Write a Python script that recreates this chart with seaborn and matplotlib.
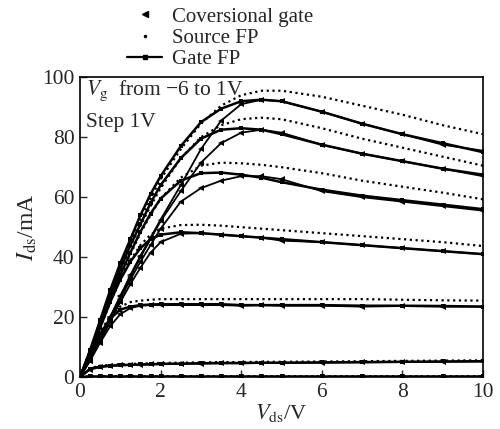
import numpy as np
import pandas as pd
import matplotlib
matplotlib.use('Agg')
import matplotlib.pyplot as plt
import seaborn as sns
from matplotlib.lines import Line2D

# values (I-V curves, Vg from top to bottom)
vds = [0, 0.25, 0.5, 0.75, 1.0, 1.25, 1.5, 1.75, 2.0, 2.5,
       3.0, 3.5, 4.0, 4.5, 5.0, 6.0, 7.0, 8.0, 9.0, 10.0]
vg_levels = ['0', '-1', '-2', '-3', '-4', '-5', '-6']

gate_fp = [
    [0, 9, 19, 29, 38, 46, 54, 61, 67, 77, 85, 89.5, 92, 92.5, 92, 88.5, 84.5, 81, 78, 75],
    [0, 8.5, 18, 27, 36, 44, 51, 58, 64, 73, 79.5, 82.5, 83, 82.5, 81, 77.5, 74.5, 72, 69.5, 67.5],
    [0, 8, 17, 26, 34, 41.5, 48.5, 54.5, 59.5, 65.5, 68, 68.2, 67.5, 66.5, 65, 62.5, 60.5, 59, 57.5, 56],
    [0, 8, 16.5, 25, 32.5, 38.5, 43, 46, 47.5, 48.3, 48, 47.5, 47, 46.5, 46, 45, 44, 43, 42, 41],
    [0, 7.5, 14.5, 19.5, 22.5, 23.5, 24, 24.2, 24.3, 24.3, 24.3, 24.3, 24, 24, 24, 24, 23.8, 23.8, 23.7, 23.5],
    [0, 2.8, 3.5, 3.8, 4, 4.1, 4.2, 4.3, 4.4, 4.5, 4.6, 4.7, 4.7, 4.8, 4.8, 4.9, 5, 5.1, 5.2, 5.3],
    [0, 0.2, 0.2, 0.2, 0.2, 0.2, 0.2, 0.2, 0.2, 0.2, 0.2, 0.2, 0.2, 0.2, 0.2, 0.2, 0.2, 0.2, 0.2, 0.2],
]
source_fp = [
    [0, 9, 18.5, 28, 37, 45, 52.5, 59.5, 66, 76, 84.5, 90.5, 94, 95.5, 95.5, 93.5, 90.5, 87.5, 84, 81],
    [0, 8.5, 18, 27, 35.5, 43.5, 50.5, 57, 63, 73, 80, 84, 86, 86.5, 86, 83, 79.5, 76.5, 73.5, 70.5],
    [0, 8, 17, 25.5, 33.5, 41, 48, 54, 59.5, 66.5, 70.5, 71.5, 71.3, 70.8, 70, 68, 65.5, 63.5, 61.5, 59.3],
    [0, 8, 16.5, 25, 32.5, 39, 44, 47.5, 49.5, 50.7, 50.8, 50.5, 50, 49.5, 49, 48, 47, 46, 45, 43.7],
    [0, 7.5, 15, 20.5, 23.5, 25, 25.5, 25.8, 26, 26, 26, 26, 26, 26, 26, 26, 26, 25.8, 25.6, 25.5],
    [0, 3, 3.8, 4.1, 4.3, 4.4, 4.5, 4.6, 4.7, 4.8, 4.9, 5, 5, 5.1, 5.1, 5.2, 5.3, 5.4, 5.5, 5.6],
    [0, 0.3, 0.3, 0.3, 0.3, 0.3, 0.3, 0.3, 0.3, 0.3, 0.3, 0.3, 0.3, 0.3, 0.3, 0.3, 0.3, 0.3, 0.3, 0.3],
]
conv_gate = [
    [0, 6, 13, 20, 27, 34, 40.5, 46.5, 52.5, 64, 76, 85.5, 91, 92.5, 92, 88.5, 84.5, 81, 77.5, 75.5],
    [0, 6, 13, 20, 27, 33.5, 40, 46, 52, 62, 71.5, 78, 81.5, 82.5, 81.5, 77.5, 74.5, 72, 69.5, 67],
    [0, 6, 12.5, 19.5, 26, 32.5, 38.5, 44, 49.5, 58.5, 63, 65.5, 67, 67, 66, 62, 60, 58.5, 57, 55.5],
    [0, 5.5, 12, 18.5, 25, 31, 36.5, 41.5, 45, 47.8, 48, 47.5, 47, 46.5, 45.5, 45, 44, 43, 42, 41],
    [0, 5.5, 11.5, 17, 21, 23, 23.8, 24, 24, 24, 24, 24, 23.8, 24, 23.8, 23.8, 23.5, 23.7, 23.5, 23.5],
    [0, 2.5, 3.3, 3.7, 3.9, 4.0, 4.1, 4.2, 4.3, 4.4, 4.5, 4.6, 4.6, 4.7, 4.7, 4.8, 4.9, 5.0, 5.1, 5.2],
    [0, 0.1, 0.1, 0.1, 0.1, 0.1, 0.1, 0.1, 0.1, 0.1, 0.1, 0.1, 0.1, 0.1, 0.1, 0.1, 0.1, 0.1, 0.1, 0.1],
]

# long table
rows = []
for name, block in [('Gate FP', gate_fp), ('Source FP', source_fp), ('Conv', conv_gate)]:
    for vg, ids in zip(vg_levels, block):
        for v, i in zip(vds, ids):
            rows.append((name, vg, v, i))
df = pd.DataFrame(rows, columns=['device', 'vg', 'vds', 'ids'])

sns.set_style('ticks')
plt.rcParams['font.family'] = ['Liberation Serif', 'DejaVu Serif']
plt.rcParams['mathtext.fontset'] = 'stix'
plt.rcParams['xtick.direction'] = 'in'
plt.rcParams['ytick.direction'] = 'in'

fs = 15
fig = plt.figure(figsize=(5, 4.29), dpi=100)
ax = fig.add_axes([0.16, 0.121, 0.806, 0.699])

sns.lineplot(data=df[df['device'] == 'Source FP'], x='vds', y='ids', units='vg',
             estimator=None, sort=False, color='black', lw=1.6,
             linestyle=(0, (1, 1.6)), legend=False, ax=ax)
sns.lineplot(data=df[df['device'] == 'Conv'], x='vds', y='ids', units='vg',
             estimator=None, sort=False, color='black', lw=1.3,
             marker='<', markersize=4, markeredgewidth=0, legend=False, ax=ax)
sns.lineplot(data=df[df['device'] == 'Gate FP'], x='vds', y='ids', units='vg',
             estimator=None, sort=False, color='black', lw=1.8,
             marker='s', markersize=2.5, markeredgewidth=0, legend=False, ax=ax)

ax.set_xlim(0, 10)
ax.set_ylim(0, 100)
ax.set_xticks([0, 2, 4, 6, 8, 10])
ax.set_yticks([0, 20, 40, 60, 80, 100])
ax.tick_params(labelsize=15.5, length=5, width=1, top=False, right=False, pad=4)
for s in ax.spines.values():
    s.set_visible(True)
    s.set_linewidth(1.2)
    s.set_color('black')

ax.set_xlabel(r'$V_{\rm ds}$/V', fontsize=16, labelpad=0)
ax.set_ylabel(r'$I_{\rm ds}$/mA', fontsize=17, labelpad=2)

ax.text(0.015, 0.995, r'$V_{\rm g}$  from −6 to 1V', transform=ax.transAxes,
        ha='left', va='top', fontsize=15.5)
ax.text(0.015, 0.88, 'Step 1V', transform=ax.transAxes,
        ha='left', va='top', fontsize=15.5)

handles = [
    Line2D([], [], color='black', marker='<', markersize=4, linestyle='none'),
    Line2D([], [], color='black', marker='.', markersize=3, linestyle='none'),
    Line2D([], [], color='black', marker='s', markersize=3, lw=1.6),
]
fig.legend(handles, ['Coversional gate', 'Source FP', 'Gate FP'],
           loc='upper left', bbox_to_anchor=(0.238, 1.003), frameon=False,
           fontsize=fs, handlelength=1.65, handletextpad=0.5, labelspacing=0.08,
           borderaxespad=0)

fig.savefig('out.png', dpi=100)
